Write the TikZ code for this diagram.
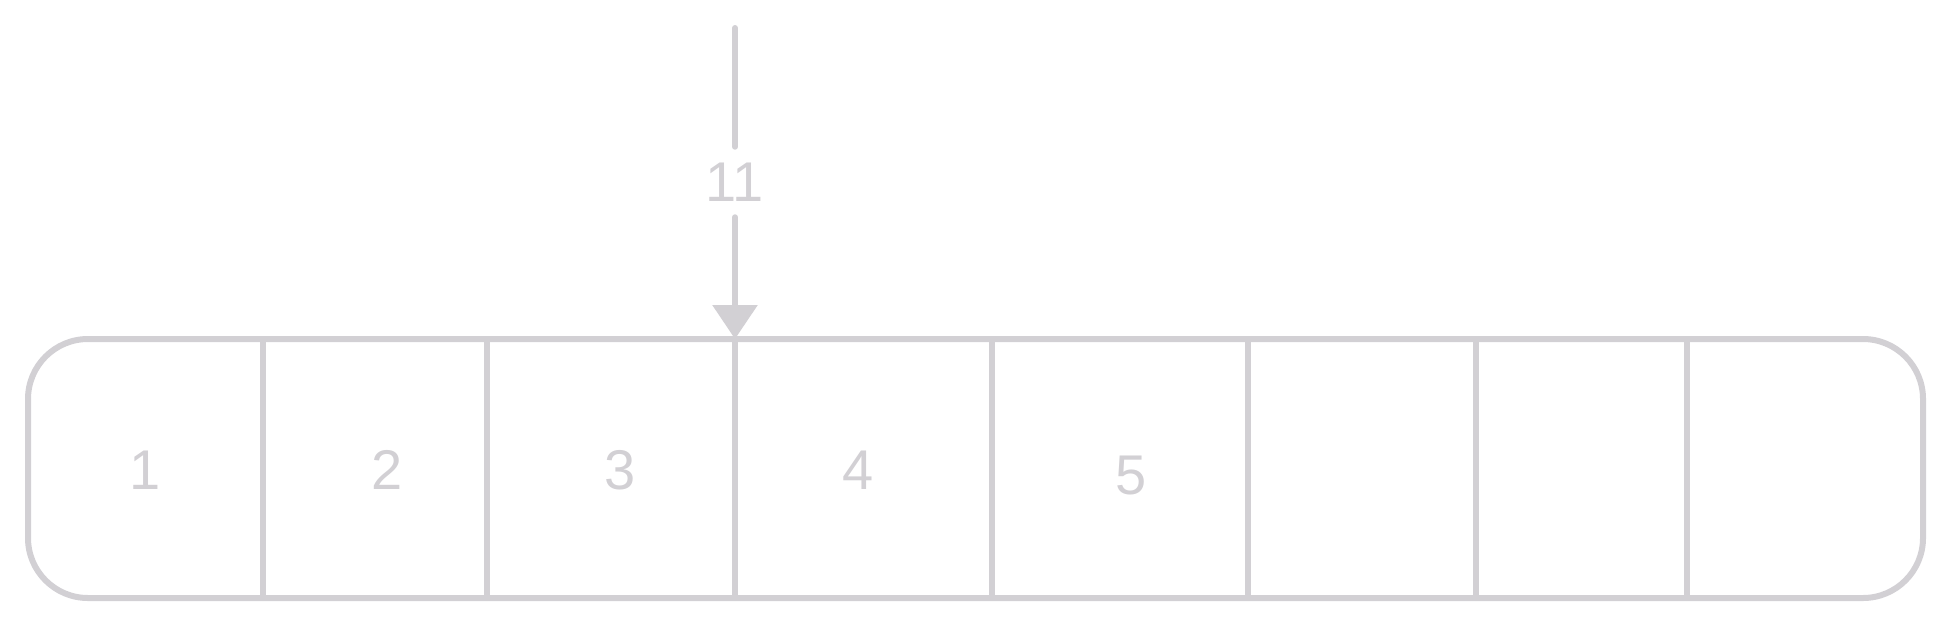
\documentclass[tikz,border=0pt]{standalone}
\usepackage{fontspec}
\setmainfont{Liberation Sans}
\usetikzlibrary{arrows.meta,positioning}
\definecolor{SketchGray}{RGB}{210,208,212}

\begin{document}
\begin{tikzpicture}[x=0.5pt,y=-0.5pt,color=SketchGray,line width=3pt,line cap=round,
  cellnum/.style={text=SketchGray,font=\fontsize{28}{34}\selectfont,inner sep=0pt,outer sep=0pt},
  divider/.style={line width=3pt}]
  \useasboundingbox (0,0) rectangle (1954,638);
  % the strip of cells
  \draw[rounded corners=30pt] (28,339) rectangle (1923,598);
  \foreach \x in {263,487,735,992,1248,1476,1687}
    \draw[divider] (\x,339) -- (\x,598);
  \node[cellnum] (n1) at (145,470) {1};
  \node[cellnum] (n2) at (387,470) {2};
  \node[cellnum] (n3) at (620,470) {3};
  \node[cellnum] (n4) at (858,470) {4};
  \node[cellnum] (n5) at (1131,475) {5};
  % incoming arrow with its label
  \coordinate (src) at (735,28);
  \coordinate (tip) at (735,339);
  \node[cellnum,inner ysep=8pt] (len) at (735,182) {11};
  \draw (src) -- (len);
  \draw[-{Triangle[width=22pt,length=17pt]}] (len) -- (tip);
\end{tikzpicture}
\end{document}
